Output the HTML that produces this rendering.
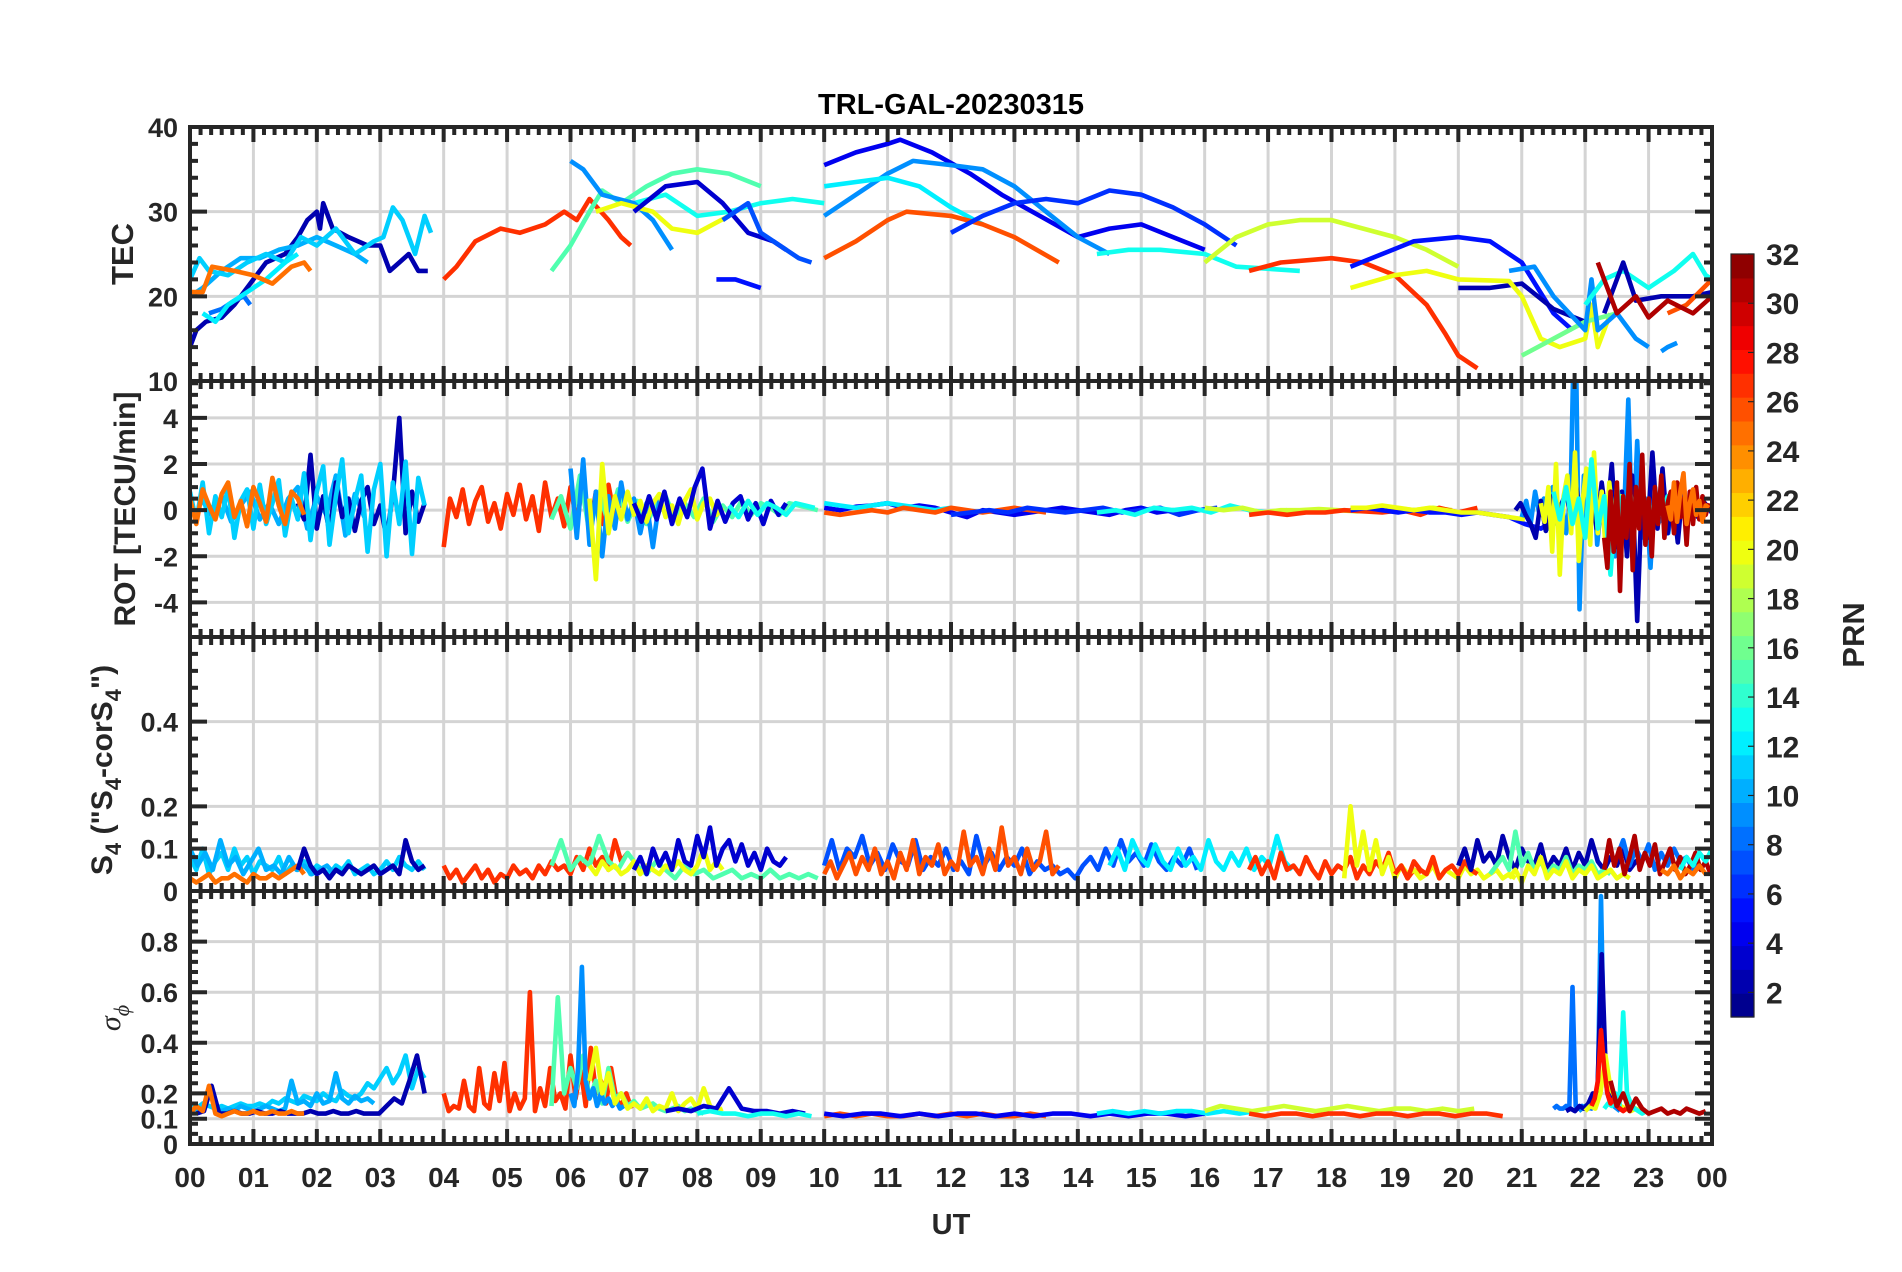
<!DOCTYPE html>
<html><head><meta charset="utf-8"><style>
html,body{margin:0;padding:0;background:#fff;}
svg{display:block;font-family:"Liberation Sans",Arial,sans-serif;}
</style></head><body>
<svg id="fig" width="1902" height="1272" viewBox="0 0 1902 1272" xmlns="http://www.w3.org/2000/svg">
<rect width="1902" height="1272" fill="#fff"/>
<text x="951" y="114" text-anchor="middle" font-size="29" font-weight="bold" fill="#000">TRL-GAL-20230315</text>
<g id="grid"></g>
<g id="series"></g>
<g id="axes"></g>
<g id="labels">
<text transform="translate(133,254) rotate(-90)" text-anchor="middle" font-size="31" font-weight="bold" fill="#262626">TEC</text>
<text transform="translate(135,509) rotate(-90)" text-anchor="middle" font-size="30" font-weight="bold" fill="#262626">ROT [TECU/min]</text>
<text transform="translate(112,770) rotate(-90)" text-anchor="middle" font-size="30" font-weight="bold" fill="#262626">S<tspan font-size="22" dy="9">4</tspan><tspan dy="-9"> ("S</tspan><tspan font-size="22" dy="9">4</tspan><tspan dy="-9">-corS</tspan><tspan font-size="22" dy="9">4</tspan><tspan dy="-9">")</tspan></text>
<text transform="translate(120,1018) rotate(-90)" text-anchor="middle" font-size="30" font-style="italic" fill="#262626" font-family="Liberation Serif, serif">σ<tspan font-size="22" dy="9">ϕ</tspan></text>
<text x="951" y="1234" text-anchor="middle" font-size="29" font-weight="bold" fill="#262626">UT</text>
<text transform="translate(1864,635) rotate(-90)" text-anchor="middle" font-size="31" font-weight="bold" fill="#262626">PRN</text>
</g>
<g id="cbar"></g>
</svg>
<script>
// ---- layout ----
const X0=190, X1=1712, H0=0, H1=24;
const PANELS=[
 {key:'tec',top:127,bot:381,min:10,max:40,ticks:[10,20,30,40],tickLabels:['10','20','30','40'],minor:2},
 {key:'rot',top:381,bot:637,min:-5.5,max:5.6,ticks:[-4,-2,0,2,4],tickLabels:['-4','-2','0','2','4'],minor:0.5},
 {key:'s4',top:637,bot:891,min:0,max:0.6,ticks:[0,0.1,0.2,0.4],tickLabels:['0','0.1','0.2','0.4'],minor:0.04},
 {key:'sig',top:891,bot:1144,min:0,max:1,ticks:[0,0.1,0.2,0.4,0.6,0.8],tickLabels:['0','0.1','0.2','0.4','0.6','0.8'],minor:0.04}
];
const HOUR_LABELS=['00','01','02','03','04','05','06','07','08','09','10','11','12','13','14','15','16','17','18','19','20','21','22','23','00'];
const CB_TICKS=[2,4,6,8,10,12,14,16,18,20,22,24,26,28,30,32];

// ---- TEC data: [hour, TEC] ----
const TEC_P2=[[0,14],[0.1,16],[0.25,17],[0.5,17.5],[0.7,19],[1.0,22],[1.2,24],[1.5,25],[1.7,27],[1.85,29],[2.0,30],[2.05,28],[2.1,31],[2.25,28],[2.5,27],[2.8,26],[3.0,26],[3.15,23],[3.3,24],[3.45,25],[3.6,23],[3.75,23]];
const TEC_P8=[[0.3,18],[0.5,18.5],[0.7,19.5],[0.85,20],[0.95,19]];
const TEC_P11=[[0,22],[0.15,24.5],[0.3,23],[0.6,22.5],[0.9,24],[1.2,25],[1.5,24],[1.75,27],[2.0,26],[2.3,28],[2.6,25],[2.9,26.5],[3.05,27],[3.2,30.5],[3.35,29],[3.55,25],[3.7,29.5],[3.8,27.5]];
const TEC_P10=[[0,20],[0.2,21],[0.5,23],[0.8,24.5],[1.1,24.5],[1.4,25.5],[1.7,26],[2.0,27],[2.3,26],[2.6,25],[2.8,24]];
const TEC_P12=[[0.2,18],[0.4,17],[0.6,19],[0.9,20.5],[1.2,22],[1.5,24],[1.7,25]];
const TEC_P25=[[0,20.5],[0.2,20.5],[0.35,23.5],[0.7,23],[1.0,22.5],[1.3,21.5],[1.6,23.5],[1.8,24],[1.9,23]];
const TEC_P27=[[4.0,22],[4.2,23.5],[4.5,26.5],[4.9,28],[5.2,27.5],[5.6,28.5],[5.9,30],[6.1,29],[6.3,31.5],[6.6,29],[6.8,27],[6.95,26]];
const TEC_P15=[[5.7,23],[6.0,26],[6.3,30],[6.5,32.5],[6.8,31],[7.2,33],[7.6,34.5],[8.0,35],[8.5,34.5],[9.0,33]];
const TEC_P13=[[7.0,31],[7.5,32],[8.0,29.5],[8.5,30],[9.0,31],[9.5,31.5],[10.0,31]];
const TEC_P9=[[6.0,36],[6.2,35],[6.5,32],[7.0,31],[7.3,29],[7.6,25.5]];
const TEC_P20=[[6.4,30],[6.8,31],[7.3,30],[7.6,28],[8.0,27.5],[8.5,29.5]];
const TEC_P3=[[7.0,30],[7.5,33],[8.0,33.5],[8.4,31],[8.8,27.5],[9.2,26.5],[9.4,25.5]];
const TEC_P5=[[8.3,22],[8.6,22],[9.0,21]];
const TEC_P7=[[8.4,29],[8.8,31],[9.0,27.5],[9.3,26],[9.6,24.5],[9.8,24]];
const TEC_P4=[[10.0,35.5],[10.5,37],[11.0,38],[11.2,38.5],[11.7,37],[12.3,34.5],[12.8,32],[13.4,29.5],[14.0,27],[14.5,28],[15.0,28.5],[15.5,27],[16.0,25.5]];
const TEC_P9B=[[10.0,29.5],[10.5,32],[11.0,34.5],[11.4,36],[12.0,35.5],[12.5,35],[13.0,33],[13.5,30],[14.0,27],[14.5,25]];
const TEC_P12B=[[10.0,33],[10.5,33.5],[11.0,34],[11.5,33],[12.0,30.5],[12.5,28.5]];
const TEC_P26=[[10.0,24.5],[10.5,26.5],[11.0,29],[11.3,30],[12.0,29.5],[12.5,28.5],[13.0,27],[13.7,24]];
const TEC_P6=[[12.0,27.5],[12.5,29.5],[13.0,31],[13.5,31.5],[14.0,31],[14.5,32.5],[15.0,32],[15.5,30.5],[16.0,28.5],[16.5,26]];
const TEC_P14=[[14.3,25],[14.8,25.5],[15.3,25.5],[16.0,25],[16.5,23.5],[17.5,23]];
const TEC_P19=[[16.0,24],[16.5,27],[17.0,28.5],[17.5,29],[18.0,29],[18.5,28],[19.0,27],[19.5,25.5],[20.0,23.5]];
const TEC_P27B=[[16.7,23],[17.2,24],[18.0,24.5],[18.5,24],[19.0,22.5],[19.5,19],[19.8,15.5],[20.0,13],[20.3,11.5]];
const TEC_P5B=[[18.3,23.5],[18.8,25],[19.3,26.5],[20.0,27],[20.5,26.5],[21.0,24],[21.5,18],[21.8,16]];
const TEC_P2B=[[20.0,21],[20.5,21],[21.0,21.5],[21.5,18.5],[22.0,17]];
const TEC_P20B=[[18.3,21],[19.0,22.5],[19.5,23],[20.0,22],[20.8,21.8],[21.0,20],[21.3,15],[21.6,14],[22.0,15],[22.1,19],[22.2,14],[22.4,18]];
const TEC_P16=[[21.0,13],[21.5,15],[22.0,17],[22.5,18]];
const TEC_P9C=[[20.8,23],[21.2,23.5],[21.5,20],[22.0,16],[22.1,22],[22.2,16],[22.5,18],[22.8,15],[23.0,14]];
const TEC_P9D=[[23.2,13.5],[23.3,14],[23.45,14.5]];
const TEC_P31=[[22.2,24],[22.5,18],[22.8,20],[23.0,17.5],[23.3,19.5],[23.7,18],[24.0,20]];
const TEC_P13B=[[22.0,19],[22.3,22],[22.6,23],[23.0,21],[23.4,23],[23.7,25],[23.9,22.5],[24,22]];
const TEC_P26B=[[23.3,18],[23.6,19],[23.8,20.5],[24.0,22]];
const TEC_P2C=[[22.3,18],[22.6,24],[22.8,19.5],[23.2,20],[23.7,20],[24,20.5]];
const TEC_SERIES=[[2,TEC_P2],[8,TEC_P8],[10,TEC_P10],[11,TEC_P11],[12,TEC_P12],[25,TEC_P25],[27,TEC_P27],[15,TEC_P15],[13,TEC_P13],[9,TEC_P9],[20,TEC_P20],[3,TEC_P3],[5,TEC_P5],[7,TEC_P7],[4,TEC_P4],[9,TEC_P9B],[12,TEC_P12B],[26,TEC_P26],[6,TEC_P6],[13,TEC_P14],[19,TEC_P19],[27,TEC_P27B],[5,TEC_P5B],[2,TEC_P2B],[20,TEC_P20B],[16,TEC_P16],[9,TEC_P9C],[9,TEC_P9D],[13,TEC_P13B],[2,TEC_P2C],[26,TEC_P26B],[31,TEC_P31]];

// ---- ROT data: start hour, step, values ----
const ROT_P10={t0:0.2,dt:0.15,v:[0.4,-0.3,0.6,-0.5,0.2,0.8,-0.4,0.3,-0.6,0.5,1.0,-0.8,0.6,-0.2,1.5,-1.1,0.7,-0.3]};
const ROT_P2={t0:1.7,dt:0.1,v:[0.3,-0.4,2.4,-0.8,0.6,-1.0,1.2,-0.3,0.5,-0.9,0.4,1.0,-0.6,0.2,-1.2,0.7,4.0,-1.0,0.8,-0.5,0.3]};
const ROT_P11={t0:0,dt:0.1,v:[0.8,-0.5,1.2,-1.0,0.6,-0.3,1.0,-1.2,0.4,0.9,-0.8,1.1,-0.6,0.3,1.3,-1.1,0.5,-0.4,1.6,-1.3,0.8,1.9,-1.5,0.6,2.2,-1.0,0.4,1.5,-1.8,0.9,2.0,-2.0,1.2,-0.6,2.1,-1.9,1.4,0.2]};
const ROT_P25={t0:0,dt:0.1,v:[0.5,-0.6,0.9,0.2,-0.4,0.7,1.2,-0.3,0.4,-0.7,1.0,0.3,-0.5,1.4,0.2,-0.6,0.8,0.5,-0.2]};
const ROT_P27={t0:4,dt:0.1,v:[-1.6,0.5,-0.3,0.9,-0.6,0.4,1.0,-0.5,0.3,-0.8,0.7,-0.2,1.1,-0.4,0.6,-0.9,1.2,-0.3,0.5,-0.7,1.0,-0.5,1.3,-0.9,0.8,-0.6,1.1,-0.4,0.5,-0.2]};
const ROT_P15={t0:5.7,dt:0.15,v:[-0.4,0.6,-0.8,1.5,-1.0,0.8,-0.6,0.9,-0.5,0.4,-0.6,0.3,0.6,-0.4,0.3,-0.3,0.5,-0.5,0.2,-0.3,0.4,-0.2,0.3,0.1,-0.2,0.3,0.2,0.1,0.0]};
const ROT_P9={t0:6.0,dt:0.1,v:[1.8,-1.2,2.2,-1.5,0.8,-2.0,0.6,-0.8,1.2,-0.4,0.5,-1.0,0.3,-1.6,0.4,-0.2]};
const ROT_P20={t0:6.3,dt:0.1,v:[0.5,-3.0,2.0,-1.0,0.6,-0.4,0.8,-0.2,0.4,-0.5,0.3,0.7,-0.3,0.2,-0.6,0.4,0.9,-0.4,0.3,0.5,-0.2,0.1]};
const ROT_P3={t0:7.0,dt:0.12,v:[0.3,-0.5,0.6,-0.4,0.8,-0.6,0.5,-0.3,1.0,1.8,-0.8,0.4,-0.5,0.3,0.6,-0.4,0.3,-0.6,0.4,-0.2,0.3]};
const ROT_P13={t0:8.5,dt:0.15,v:[0.2,-0.3,0.4,-0.2,0.3,0.1,-0.2,0.3,0.2,0.1]};
const ROT_P4={t0:10,dt:0.25,v:[0.1,0.0,0.15,0.2,0.3,0.1,0.2,0.1,-0.1,-0.3,0.0,-0.1,-0.2,-0.1,0.0,0.1,0.0,-0.1,-0.2,0.0,0.1,-0.1,0.0,-0.1]};
const ROT_P12={t0:10,dt:0.25,v:[0.3,0.2,0.1,0.2,0.3,0.2,0.1,0.0,0.1]};
const ROT_P26={t0:10,dt:0.25,v:[-0.1,-0.2,-0.1,0.0,-0.1,0.1,0.0,-0.1,0.1,0.0,-0.1,0.0,0.1,0.0,-0.1]};
const ROT_P6={t0:12,dt:0.3,v:[-0.2,-0.1,0.0,-0.1,0.1,0.0,-0.1,0.0,0.1,-0.1,0.0,0.1,-0.2,0.0,0.1]};
const ROT_P14={t0:14.3,dt:0.3,v:[-0.1,0.0,-0.2,0.1,0.0,0.1,-0.1,0.2,0.0,-0.1,0.0]};
const ROT_P19={t0:16,dt:0.3,v:[0.1,0.0,0.1,-0.1,0.0,0.0,0.05,0.0,-0.05,0.0,0.1,0.0,0.1,0.0]};
const ROT_P27B={t0:16.7,dt:0.3,v:[-0.2,-0.1,-0.2,-0.1,-0.1,0.0,-0.05,-0.1,0.0,-0.2,0.1,-0.1,0.1]};
const ROT_P5={t0:18.3,dt:0.25,v:[0.0,0.1,0.0,-0.1,0.0,-0.1,-0.1,-0.2,-0.1,-0.2,-0.3,-0.6,-0.8,-0.4]};
const ROT_P20B={t0:18.3,dt:0.25,v:[0.1,0.1,0.2,0.1,0.0,0.1,0.0,-0.1,-0.1,-0.2,-0.3,-0.4]};
const ROT_C9={t0:21.0,dt:0.07,v:[-0.3,0.4,-0.6,0.8,-0.2,0.5,-0.8,1.0,-0.6,0.3,-1.0,0.6,10,-4.3,1.5,-1.0,2.0,-1.5,0.5,-0.8,1.0,-2.0,0.6,-0.4,4.8,-1.8,3.0,-1.2,0.5,-2.5,1.0,-0.5,0.8,-1.0,0.4,-0.2,0.6,-0.3,0.2,0.0]};
const ROT_C2={t0:20.9,dt:0.08,v:[0.0,0.3,-0.2,-0.6,-1.2,0.4,-0.9,0.6,-0.5,0.2,0.8,-0.4,1.0,-0.6,-1.0,0.9,-0.8,1.2,-0.5,2.0,-1.6,0.8,-2.0,1.5,-4.8,1.0,-1.2,2.5,-0.8,1.8,-1.0,0.6,-1.4,1.0,-0.4,0.6,-0.3,0.4,0.1,-0.2]};
const ROT_C20={t0:21.3,dt:0.06,v:[0.3,-0.5,1.0,-1.8,2.0,-2.8,0.6,1.5,-1.0,2.5,-2.2,0.4,1.8,-1.5,2.5,-1.0,0.8,-1.6,1.2,-0.5,0.3,0.6,-0.2,0.2]};
const ROT_C13={t0:21.5,dt:0.1,v:[0.8,-0.4,1.0,-0.6,0.5,-1.2,2.2,-0.8,0.6,-2.8,1.0,-0.5,0.8,-0.3,0.5,-0.6,0.4,-0.2,0.6,-0.4,0.3,0.2,-0.1,0.3,0.1]};
const ROT_C31={t0:22.3,dt:0.05,v:[-1.2,-2.5,0.8,-1.8,1.2,-3.5,0.6,-1.2,2.0,-2.6,1.0,-0.8,2.4,-1.5,0.5,-2.0,1.0,-0.6,1.5,-1.2,0.3,0.8,-1.0,1.2,-0.3,0.5,-1.5,0.8,-0.6,1.0,-0.4,0.6,-0.2,0.3]};
const ROT_C25={t0:23.3,dt:0.05,v:[0.2,-0.4,1.2,-0.5,0.8,1.6,-0.6,0.3,0.9,-0.2,0.4,-0.5,0.2,0.1]};
const ROT_SERIES=[[10,ROT_P10],[2,ROT_P2],[11,ROT_P11],[25,ROT_P25],[27,ROT_P27],[15,ROT_P15],[9,ROT_P9],[20,ROT_P20],[3,ROT_P3],[13,ROT_P13],[4,ROT_P4],[12,ROT_P12],[26,ROT_P26],[6,ROT_P6],[13,ROT_P14],[19,ROT_P19],[27,ROT_P27B],[5,ROT_P5],[20,ROT_P20B],[9,ROT_C9],[2,ROT_C2],[20,ROT_C20],[13,ROT_C13],[31,ROT_C31],[25,ROT_C25]];

// ---- S4 data ----
const S4_P11={t0:0,dt:0.1,v:[0.08,0.05,0.1,0.04,0.07,0.09,0.05,0.1,0.06,0.08,0.04,0.07,0.06,0.05,0.08,0.04,0.06,0.05,0.07,0.04,0.06,0.05,0.04,0.06,0.05,0.07,0.04,0.05,0.06,0.04,0.05,0.07,0.05,0.08,0.06,0.05,0.07,0.05]};
const S4_P10={t0:0,dt:0.12,v:[0.1,0.06,0.09,0.05,0.12,0.06,0.08,0.04,0.07,0.1,0.05,0.06,0.04,0.08,0.05,0.06,0.04,0.05,0.06,0.04]};
const S4_P25={t0:0,dt:0.1,v:[0.03,0.02,0.03,0.04,0.02,0.03,0.03,0.04,0.03,0.02,0.04,0.03,0.03,0.04,0.03,0.04,0.05,0.06,0.04]};
const S4_P2={t0:1.7,dt:0.1,v:[0.05,0.1,0.06,0.04,0.05,0.03,0.05,0.04,0.06,0.05,0.04,0.05,0.06,0.04,0.05,0.06,0.04,0.12,0.07,0.05,0.06]};
const S4_P27={t0:4,dt:0.1,v:[0.06,0.03,0.05,0.02,0.04,0.06,0.03,0.05,0.02,0.04,0.03,0.06,0.04,0.05,0.03,0.06,0.04,0.07,0.05,0.06,0.04,0.08,0.05,0.1,0.06,0.08,0.05,0.12,0.07,0.09]};
const S4_P15={t0:5.7,dt:0.15,v:[0.06,0.12,0.05,0.08,0.06,0.13,0.07,0.05,0.09,0.06,0.04,0.07,0.05,0.03,0.06,0.04,0.05,0.03,0.04,0.05,0.03,0.04,0.03,0.05,0.03,0.04,0.03,0.04,0.03]};
const S4_P20={t0:6.3,dt:0.1,v:[0.06,0.04,0.07,0.05,0.06,0.04,0.05,0.07,0.04,0.06,0.05,0.04,0.06,0.05,0.07,0.05,0.04,0.06,0.1,0.05,0.07,0.05]};
const S4_P3={t0:7,dt:0.1,v:[0.05,0.08,0.04,0.1,0.06,0.09,0.05,0.12,0.07,0.06,0.13,0.08,0.15,0.06,0.1,0.12,0.07,0.11,0.06,0.09,0.05,0.1,0.07,0.06,0.08]};
const S4_P7={t0:10,dt:0.12,v:[0.06,0.12,0.05,0.1,0.08,0.13,0.06,0.09,0.05,0.11,0.07,0.06,0.12,0.05,0.08,0.06,0.1,0.05,0.07,0.04,0.13,0.06,0.09,0.05,0.08,0.06,0.1,0.04,0.07,0.05,0.06,0.04,0.05,0.03,0.06,0.08,0.05,0.1,0.06,0.12,0.07,0.09,0.06,0.11,0.07,0.05,0.08,0.06,0.1,0.05]};
const S4_P26={t0:10,dt:0.1,v:[0.04,0.07,0.03,0.06,0.09,0.04,0.08,0.05,0.1,0.04,0.07,0.03,0.09,0.05,0.12,0.04,0.08,0.06,0.11,0.04,0.07,0.05,0.14,0.06,0.08,0.04,0.1,0.05,0.15,0.06,0.08,0.04,0.1,0.05,0.07,0.14,0.04,0.06]};
const S4_P12={t0:14.5,dt:0.12,v:[0.06,0.1,0.05,0.12,0.08,0.06,0.11,0.07,0.05,0.1,0.06,0.08,0.05,0.12,0.07,0.05,0.09,0.06,0.1,0.05,0.08,0.06,0.13,0.07,0.05]};
const S4_P27B={t0:16.7,dt:0.1,v:[0.05,0.08,0.04,0.07,0.03,0.09,0.05,0.06,0.04,0.08,0.05,0.03,0.07,0.04,0.06,0.05,0.08,0.03,0.06,0.04,0.07,0.05,0.09,0.04,0.06,0.03,0.05,0.04]};
const S4_P20B={t0:18.2,dt:0.1,v:[0.03,0.2,0.06,0.14,0.05,0.12,0.04,0.08,0.03,0.06,0.04,0.05,0.03,0.04,0.06,0.03,0.05,0.04,0.03,0.06,0.04,0.05,0.03,0.04,0.05,0.03,0.04,0.03]};
const S4_P27C={t0:19,dt:0.1,v:[0.04,0.06,0.03,0.07,0.05,0.04,0.08,0.03,0.05,0.06,0.04,0.07,0.05,0.04]};
const S4_P2B={t0:20,dt:0.1,v:[0.06,0.1,0.05,0.12,0.07,0.09,0.06,0.13,0.08,0.05,0.1,0.07,0.06,0.11,0.05,0.08,0.06,0.1,0.05,0.09,0.06,0.12,0.07,0.05,0.08,0.06,0.1,0.05,0.07,0.06]};
const S4_P13={t0:20.5,dt:0.1,v:[0.04,0.06,0.08,0.05,0.14,0.06,0.09,0.05,0.07,0.04,0.06,0.05,0.08,0.04,0.06,0.05,0.07,0.04,0.05,0.04]};
const S4_P20C={t0:20.8,dt:0.1,v:[0.03,0.05,0.02,0.06,0.04,0.08,0.03,0.05,0.04,0.07,0.03,0.05,0.04,0.06,0.03,0.04,0.05,0.03,0.04,0.03]};
const S4_P31={t0:22.3,dt:0.08,v:[0.05,0.12,0.06,0.1,0.04,0.08,0.13,0.05,0.09,0.06,0.11,0.04,0.07,0.1,0.05,0.08,0.04,0.06,0.09,0.05,0.07,0.04]};
const S4_P8={t0:22.5,dt:0.1,v:[0.08,0.12,0.06,0.1,0.07,0.11,0.05,0.09,0.06,0.1,0.07,0.08,0.05,0.09,0.07]};
const S4_P25B={t0:23.2,dt:0.1,v:[0.05,0.04,0.06,0.03,0.05,0.04,0.06,0.04]};
const S4_P13B={t0:23.5,dt:0.1,v:[0.05,0.08,0.06,0.09,0.07,0.1]};
const S4_SERIES=[[11,S4_P11],[10,S4_P10],[25,S4_P25],[2,S4_P2],[27,S4_P27],[15,S4_P15],[20,S4_P20],[3,S4_P3],[7,S4_P7],[26,S4_P26],[12,S4_P12],[27,S4_P27B],[20,S4_P20B],[27,S4_P27C],[2,S4_P2B],[15,S4_P13],[20,S4_P20C],[8,S4_P8],[31,S4_P31],[25,S4_P25B],[13,S4_P13B]];

// ---- sigma-phi data ----
const SIG_P11={t0:0,dt:0.1,v:[0.15,0.14,0.16,0.15,0.14,0.15,0.14,0.15,0.16,0.15,0.15,0.16,0.15,0.17,0.16,0.18,0.17,0.16,0.19,0.18,0.17,0.2,0.18,0.17,0.21,0.19,0.18,0.2,0.24,0.22,0.26,0.3,0.24,0.28,0.35,0.22,0.3,0.26]};
const SIG_P10={t0:0,dt:0.1,v:[0.13,0.14,0.13,0.22,0.14,0.13,0.14,0.13,0.15,0.14,0.13,0.14,0.15,0.14,0.13,0.14,0.25,0.16,0.17,0.15,0.2,0.16,0.17,0.28,0.18,0.16,0.19,0.17,0.18,0.16]};
const SIG_P2={t0:0.1,dt:0.12,v:[0.12,0.13,0.23,0.12,0.12,0.13,0.12,0.12,0.13,0.12,0.12,0.13,0.12,0.12,0.12,0.13,0.12,0.12,0.13,0.12,0.12,0.13,0.12,0.12,0.12,0.15,0.18,0.16,0.25,0.35,0.2]};
const SIG_P25={t0:0,dt:0.1,v:[0.12,0.15,0.13,0.23,0.12,0.11,0.12,0.13,0.12,0.12,0.13,0.12,0.12,0.13,0.12,0.12,0.13,0.12,0.12]};
const SIG_P27={t0:4,dt:0.08,v:[0.2,0.13,0.15,0.14,0.25,0.15,0.13,0.3,0.16,0.14,0.28,0.17,0.32,0.13,0.2,0.14,0.18,0.6,0.13,0.22,0.15,0.3,0.17,0.2,0.14,0.35,0.18,0.3,0.15,0.38,0.2,0.25,0.16,0.3,0.18,0.15,0.2,0.14]};
const SIG_P15={t0:5.7,dt:0.1,v:[0.15,0.58,0.2,0.3,0.22,0.35,0.18,0.25,0.16,0.3,0.18,0.2,0.15,0.17,0.14,0.15,0.16,0.14,0.13,0.14,0.15,0.13,0.14,0.13,0.12]};
const SIG_P9={t0:6.0,dt:0.06,v:[0.2,0.15,0.3,0.7,0.25,0.18,0.22,0.15,0.2,0.16,0.18,0.15,0.17,0.14,0.15]};
const SIG_P20={t0:6.3,dt:0.1,v:[0.25,0.38,0.2,0.28,0.16,0.2,0.14,0.16,0.14,0.18,0.13,0.15,0.14,0.2,0.13,0.16,0.18,0.14,0.22,0.15,0.13,0.14]};
const SIG_P3={t0:7.5,dt:0.2,v:[0.13,0.14,0.13,0.15,0.14,0.22,0.14,0.13,0.13,0.12,0.13,0.12]};
const SIG_P13={t0:8,dt:0.2,v:[0.12,0.13,0.12,0.12,0.11,0.12,0.12,0.11,0.12,0.11]};
const SIG_P26={t0:10,dt:0.25,v:[0.11,0.12,0.11,0.12,0.11,0.11,0.12,0.11,0.12,0.11,0.12,0.11,0.11,0.12,0.11]};
const SIG_P4={t0:10,dt:0.3,v:[0.12,0.11,0.12,0.12,0.11,0.12,0.11,0.12,0.12,0.11,0.12,0.11,0.12,0.12,0.11,0.12,0.11,0.12,0.12,0.11,0.12]};
const SIG_P12={t0:14.3,dt:0.25,v:[0.12,0.13,0.12,0.13,0.12,0.13,0.13,0.12,0.13,0.12,0.13]};
const SIG_P19={t0:16,dt:0.25,v:[0.13,0.15,0.14,0.13,0.14,0.15,0.14,0.13,0.14,0.15,0.14,0.13,0.14,0.14,0.13,0.14,0.13,0.14]};
const SIG_P27B={t0:16.7,dt:0.25,v:[0.12,0.11,0.12,0.12,0.11,0.12,0.12,0.11,0.12,0.12,0.11,0.12,0.12,0.11,0.12,0.12,0.11]};
const SIG_P8={t0:21.5,dt:0.05,v:[0.14,0.15,0.14,0.14,0.15,0.14,0.62,0.15,0.14,0.15,0.14,0.15,0.14,0.16]};
const SIG_P9B={t0:21.9,dt:0.05,v:[0.13,0.14,0.15,0.14,0.16,0.15,0.2,0.98,0.3,0.2,0.16,0.15,0.14,0.13]};
const SIG_P2B={t0:21.7,dt:0.07,v:[0.13,0.14,0.13,0.15,0.14,0.16,0.2,0.18,0.75,0.25,0.2,0.16,0.14,0.13]};
const SIG_P28={t0:22.1,dt:0.05,v:[0.15,0.18,0.25,0.45,0.3,0.2,0.16,0.18,0.15,0.14,0.13,0.14]};
const SIG_P20B={t0:22.0,dt:0.08,v:[0.13,0.15,0.14,0.2,0.35,0.22,0.18,0.15,0.14,0.13,0.14,0.13]};
const SIG_P13B={t0:22.3,dt:0.06,v:[0.14,0.16,0.15,0.2,0.15,0.52,0.2,0.16,0.14,0.13,0.12,0.13]};
const SIG_P31={t0:22.4,dt:0.1,v:[0.25,0.15,0.2,0.13,0.18,0.14,0.12,0.13,0.14,0.12,0.13,0.12,0.14,0.13,0.12,0.13]};
const SIG_SERIES=[[11,SIG_P11],[10,SIG_P10],[2,SIG_P2],[25,SIG_P25],[27,SIG_P27],[15,SIG_P15],[9,SIG_P9],[20,SIG_P20],[3,SIG_P3],[13,SIG_P13],[26,SIG_P26],[4,SIG_P4],[12,SIG_P12],[19,SIG_P19],[27,SIG_P27B],[8,SIG_P8],[9,SIG_P9B],[2,SIG_P2B],[20,SIG_P20B],[13,SIG_P13B],[28,SIG_P28],[31,SIG_P31]];

const NS='http://www.w3.org/2000/svg';
function mk(tag,attrs,parent){const e=document.createElementNS(NS,tag);for(const k in attrs)e.setAttribute(k,attrs[k]);parent.appendChild(e);return e;}
function xs(h){return X0+(h-H0)/(H1-H0)*(X1-X0);}
function ys(p,v){return p.bot-(v-p.min)/(p.max-p.min)*(p.bot-p.top);}
function jet(t){const c=x=>Math.round(255*Math.max(0,Math.min(1,x)));
 return 'rgb('+c(1.5-Math.abs(4*t-3))+','+c(1.5-Math.abs(4*t-2))+','+c(1.5-Math.abs(4*t-1))+')';}
function prnColor(p){return jet((p-0.5)/32);}

const gGrid=document.getElementById('grid'),gSer=document.getElementById('series'),gAx=document.getElementById('axes'),gCb=document.getElementById('cbar');
const defs=mk('defs',{},document.getElementById('fig'));
const AX='#262626';

PANELS.forEach((p,pi)=>{
 const cp=mk('clipPath',{id:'clip'+pi},defs);
 mk('rect',{x:X0,y:p.top,width:X1-X0,height:p.bot-p.top},cp);
 for(let h=1;h<24;h++){const l=mk('line',{x1:xs(h),x2:xs(h),y1:p.top,y2:p.bot,stroke:'#d4d4d4','stroke-width':3},gGrid);
  
  }
 p.ticks.forEach(v=>{if(v===p.min)return;const y=ys(p,v);const l=mk('line',{x1:X0,x2:X1,y1:y,y2:y,stroke:'#d4d4d4','stroke-width':3},gGrid);
  
  });
});

function drawPath(p,pi,pts,prn,name){
 let d='';pts.forEach((q,i)=>{d+=(i?'L':'M')+xs(q[0]).toFixed(1)+','+ys(p,q[1]).toFixed(1);});
 const e=mk('path',{d:d,fill:'none',stroke:prnColor(prn),'stroke-width':4.6,'stroke-linejoin':'round','clip-path':'url(#clip'+pi+')'},gSer);
 
 
}
TEC_SERIES.forEach(s=>drawPath(PANELS[0],0,s[1],s[0],'tec-line-prn'+s[0]));
function seq(o){return o.v.map((v,i)=>[o.t0+i*o.dt,v]);}
ROT_SERIES.forEach(s=>drawPath(PANELS[1],1,seq(s[1]),s[0],'rot-line-prn'+s[0]));
S4_SERIES.forEach(s=>drawPath(PANELS[2],2,seq(s[1]),s[0],'s4-line-prn'+s[0]));
SIG_SERIES.forEach(s=>drawPath(PANELS[3],3,seq(s[1]),s[0],'sigma-line-prn'+s[0]));

PANELS.forEach((p,pi)=>{
 const r=mk('rect',{x:X0,y:p.top,width:X1-X0,height:p.bot-p.top,fill:'none',stroke:AX,'stroke-width':4},gAx);
 
 
 let d='';
 for(let m=0;m<=24*6;m++){const x=xs(m/6);const L=(m%6===0)?15:8;d+='M'+x+','+p.bot+'v'+(-L)+'M'+x+','+p.top+'v'+L;}
 const start=Math.ceil(p.min/p.minor-1e-6);
 for(let k=start;k*p.minor<=p.max+1e-9;k++){const v=k*p.minor;const y=ys(p,v);d+='M'+X0+','+y+'h8M'+X1+','+y+'h-8';}
 p.ticks.forEach(v=>{const y=ys(p,v);d+='M'+X0+','+y+'h17M'+X1+','+y+'h-17';});
 const t=mk('path',{d:d,stroke:AX,'stroke-width':4,fill:'none'},gAx);
 
 
 p.ticks.forEach((v,i)=>{const tx=mk('text',{x:178,y:ys(p,v)+10,'text-anchor':'end','font-size':27,'font-weight':'bold',fill:AX},gAx);
  tx.textContent=p.tickLabels[i];
  
  });
});
HOUR_LABELS.forEach((lab,h)=>{const tx=mk('text',{x:xs(h),y:1187,'text-anchor':'middle','font-size':28,'font-weight':'bold',fill:AX},gAx);
 tx.textContent=lab;
 
 });

const CB_X=1731,CB_W=23,CB_T=254,CB_B=1017;
for(let i=0;i<32;i++){const h=(CB_B-CB_T)/32;const r=mk('rect',{x:CB_X,y:CB_B-(i+1)*h,width:CB_W,height:h+0.6,fill:jet((i+0.5)/32)},gCb);
 
 }
const cbb=mk('rect',{x:CB_X,y:CB_T,width:CB_W,height:CB_B-CB_T,fill:'none',stroke:AX,'stroke-width':1.2},gCb);


CB_TICKS.forEach(v=>{const y=CB_B-(v-1)/31*(CB_B-CB_T);
 const l=mk('line',{x1:CB_X+CB_W-6,x2:CB_X+CB_W,y1:y,y2:y,stroke:AX,'stroke-width':1.2},gCb);
 
 
 const tx=mk('text',{x:1766,y:y+11,'font-size':30,'font-weight':'bold',fill:AX},gCb);
 tx.textContent=String(v);
 
 });
</script>
</body></html>
